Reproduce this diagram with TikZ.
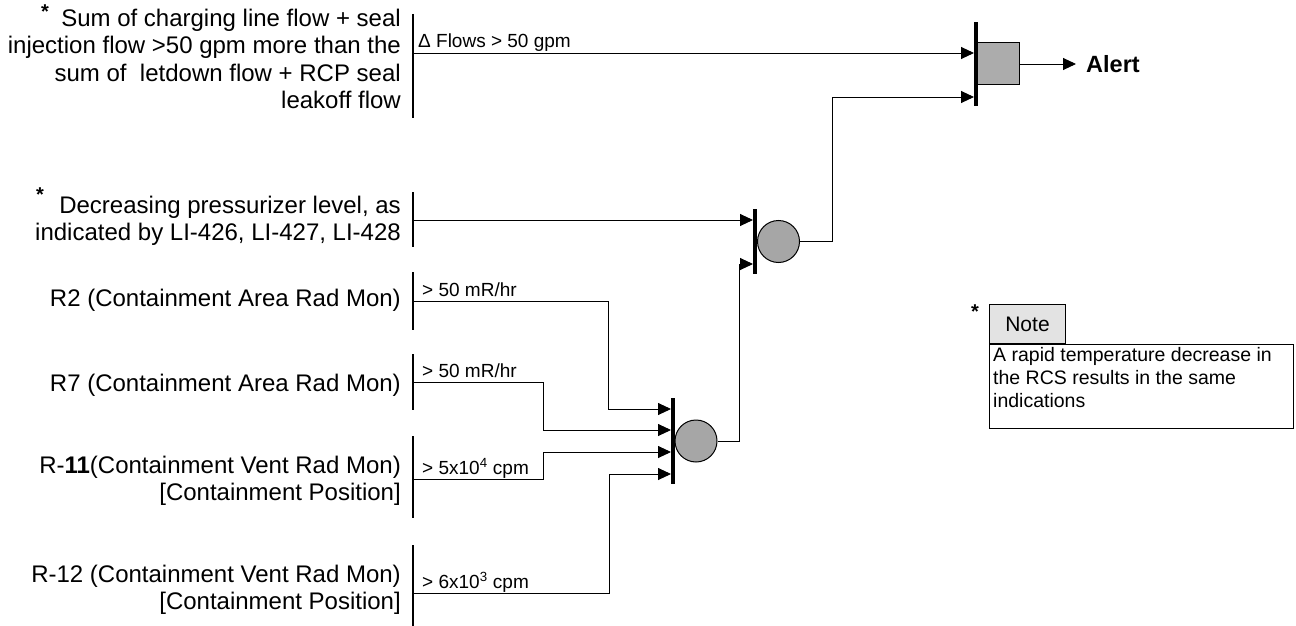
\documentclass[tikz,border=0pt]{standalone}
\usepackage{fontspec}
\setmainfont{Liberation Sans}
\usetikzlibrary{arrows.meta}
\begin{document}
\begin{tikzpicture}[x=1pt,y=-1pt,
  lbl/.style={anchor=east, align=right, inner sep=0pt, font=\fontsize{24}{27.5}\selectfont},
  thr/.style={anchor=base west, inner sep=0pt, font=\fontsize{19}{22}\selectfont},
  star/.style={inner sep=0pt, font=\fontsize{20}{20}\selectfont\bfseries},
  conn/.style={line width=0.9pt},
  arr/.style={conn, -{Triangle[length=13pt,width=12pt]}},
  inbar/.style={line width=1.4pt},
  gbar/.style={rectangle, fill=black, minimum width=3.6pt, inner sep=0pt},
  orgate/.style={circle, draw, line width=1pt, fill=gray!70, minimum size=42pt, inner sep=0pt},
  andgate/.style={rectangle, draw, line width=1pt, fill=gray!65, minimum width=42pt, minimum height=42pt, inner sep=0pt}
]
\useasboundingbox (0,0) rectangle (1296,626);

% ---- input labels
\node[lbl] (t1) at (401,59) {Sum of charging line flow + seal\\injection flow >50 gpm more than the\\sum of \ letdown flow + RCP seal\\leakoff flow};
\node[star] (st1) at (45,12) {*};
\node[lbl] (t2) at (401,221) {Decreasing pressurizer level, as\\indicated by LI-426, LI-427, LI-428};
\node[star] (st2) at (40,195) {*};
\node[lbl] (t3) at (401,300) {R2 (Containment Area Rad Mon)};
\node[lbl] (t4) at (401,385) {R7 (Containment Area Rad Mon)};
\node[lbl] (t5) at (401,481) {R-\textbf{11}(Containment Vent Rad Mon)\\{}[Containment Position]};
\node[lbl] (t6) at (401,590) {R-12 (Containment Vent Rad Mon)\\{}[Containment Position]};

% ---- input bars
\draw[inbar] (413,14) -- (413,118);
\draw[inbar] (413,192) -- (413,247);
\draw[inbar] (413,272) -- (413,330);
\draw[inbar] (413,354) -- (413,410);
\draw[inbar] (413,436) -- (413,518);
\draw[inbar] (413,545) -- (413,626);

% ---- connector start points
\coordinate (s1) at (413,53);
\coordinate (s2) at (413,220);
\coordinate (s3) at (413,301);
\coordinate (s4) at (413,382);
\coordinate (s5) at (413,479);
\coordinate (s6) at (413,593);

% ---- threshold labels
\node[thr] (l1) at (418,48) {Δ Flows > 50 gpm};
\node[thr] (l3) at (422,296) {> 50 mR/hr};
\node[thr] (l4) at (422,377) {> 50 mR/hr};
\node[thr] (l5) at (422,474) {> 5x10\textsuperscript{4} cpm};
\node[thr] (l6) at (422,588) {> 6x10\textsuperscript{3} cpm};

% ---- gates
\node[gbar, minimum height=86pt] (g1bar) at (673,441) {};
\node[orgate] (g1) at (696,441) {};
\node[gbar, minimum height=65pt] (g2bar) at (755,241.5) {};
\node[orgate] (g2) at (778.5,241.5) {};
\node[gbar, minimum height=84pt] (g3bar) at (976,64) {};
\node[andgate] (g3) at (998,64) {};
\node[inner sep=0pt, anchor=west, font=\fontsize{23.5}{26}\selectfont\bfseries] (alert) at (1086,64) {Alert};

% ---- gate input points
\coordinate (g1a) at (671,409);
\coordinate (g1b) at (671,430);
\coordinate (g1c) at (671,452);
\coordinate (g1d) at (671,474);
\coordinate (g2a) at (753,220);
\coordinate (g2b) at (753,264);
\coordinate (g3a) at (974,53);
\coordinate (g3b) at (974,97);

% ---- connectors
\draw[arr] (s1) -- (g3a);
\draw[arr] (s2) -- (g2a);
\draw[arr] (s3) -- (608,301) -- (608,409) -- (g1a);
\draw[arr] (s4) -- (543,382) -- (543,430) -- (g1b);
\draw[arr] (s5) -- (543,479) -- (543,452) -- (g1c);
\draw[arr] (s6) -- (609,593) -- (609,474) -- (g1d);
\draw[arr] (g1.east) -- (739,441) -- (739,264) -- (g2b);
\draw[arr] (g2.east) -- (832,241.5) -- (832,97) -- (g3b);
\draw[arr, shorten >=10pt] (g3.east) -- (alert.west);

% ---- note
\node[star] (st3) at (975,312) {*};
\node[draw, line width=1pt, fill=gray!22, minimum width=76pt, minimum height=39pt, anchor=north west, inner sep=0pt,
      font=\fontsize{21}{24}\selectfont] (nh) at (989,304) {Note};
\node[draw, line width=1pt, anchor=north west, minimum width=304pt, minimum height=84pt, inner sep=0pt] (nb) at (nh.south west) {};
\node[anchor=north west, align=left, inner sep=0pt, font=\fontsize{19.5}{23}\selectfont] (nt) at (993,347)
  {A rapid temperature decrease in\\the RCS results in the same\\indications};
\end{tikzpicture}
\end{document}
